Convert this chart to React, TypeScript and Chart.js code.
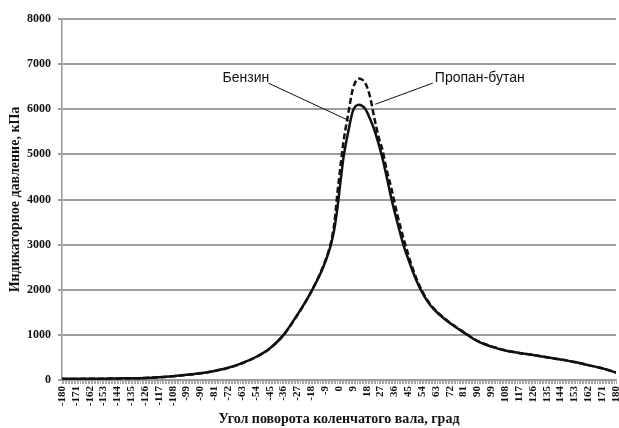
import React, { useEffect, useRef } from "react";
import { Chart, registerables } from "chart.js";

Chart.register(...registerables);

// Crank angle, degrees
const angles = [-180, -171, -162, -153, -144, -135, -126, -117, -108, -99, -90, -81, -72, -63, -54, -45, -36, -27, -22, -18, -14, -10, -7, -5, -3, -1, 1, 3, 6, 9, 13, 17, 20, 23, 26, 28, 31, 34, 38, 42, 45, 48, 51, 54, 57, 60, 64, 68, 75, 83, 90, 99, 108, 117, 126, 135, 144, 153, 162, 171, 180];

// Indicator pressure, kPa — gasoline (Бензин)
const benzin = [25, 25, 28, 30, 35, 38, 45, 62, 85, 115, 150, 200, 270, 375, 510, 700, 1000, 1450, 1720, 1960, 2220, 2520, 2800, 3030, 3350, 3820, 4400, 4950, 5500, 5960, 6100, 6010, 5800, 5540, 5200, 4950, 4500, 4030, 3480, 2980, 2680, 2400, 2150, 1940, 1770, 1630, 1490, 1370, 1190, 1010, 860, 740, 655, 600, 555, 505, 455, 400, 330, 260, 165];

// Indicator pressure, kPa — propane-butane (Пропан-бутан)
const propane = [22, 24, 26, 28, 33, 36, 44, 60, 83, 112, 148, 198, 268, 372, 505, 695, 995, 1440, 1715, 1960, 2230, 2540, 2830, 3080, 3480, 4150, 4750, 5300, 5900, 6450, 6680, 6580, 6300, 5800, 5350, 5130, 4650, 4250, 3650, 3130, 2780, 2460, 2190, 1970, 1790, 1650, 1500, 1380, 1200, 1015, 865, 745, 660, 600, 555, 505, 455, 400, 330, 260, 165];

const yMin = 0;
const yMax = 8000;
const yStep = 1000;
const xMin = -180;
const xMax = 180;
const xLabelStep = 9;

const xTitle = "Угол поворота коленчатого вала, град";
const yTitle = "Индикаторное давление, кПа";

// Callout labels (text anchor and leader line in data units)
const callouts = [
  { text: "Бензин", tx: -60.5, ty: 6690, x1: -46, y1: 6580, x2: 7, y2: 5740 },
  { text: "Пропан-бутан", tx: 91.5, ty: 6690, x1: 61, y1: 6580, x2: 23.5, y2: 6110 },
];

const serifBold = { family: "'Liberation Serif', 'Times New Roman', serif", size: 12, weight: "bold" as const };

export default function App() {
  const ref = useRef<HTMLCanvasElement | null>(null);

  useEffect(() => {
    if (!ref.current) return;
    const calloutPlugin = {
      id: "callouts",
      afterDatasetsDraw(chart: any) {
        const { ctx } = chart;
        const xs = chart.scales.x;
        const ys = chart.scales.y;
        ctx.save();
        ctx.font = "14px 'Liberation Sans', Arial, sans-serif";
        ctx.fillStyle = "#111";
        ctx.textAlign = "center";
        ctx.textBaseline = "middle";
        ctx.strokeStyle = "#111";
        ctx.lineWidth = 1;
        for (const c of callouts) {
          ctx.fillText(c.text, xs.getPixelForValue(c.tx), ys.getPixelForValue(c.ty));
          ctx.beginPath();
          ctx.moveTo(xs.getPixelForValue(c.x1), ys.getPixelForValue(c.y1));
          ctx.lineTo(xs.getPixelForValue(c.x2), ys.getPixelForValue(c.y2));
          ctx.stroke();
        }
        ctx.restore();
      },
    };

    const chart = new Chart(ref.current, {
      type: "line",
      data: {
        datasets: [
          {
            label: "Пропан-бутан",
            data: angles.map((a, i) => ({ x: a, y: propane[i] })),
            borderColor: "#111",
            borderWidth: 2.5,
            borderDash: [6, 3],
            pointRadius: 0,
            cubicInterpolationMode: "monotone",
            fill: false,
          },
          {
            label: "Бензин",
            data: angles.map((a, i) => ({ x: a, y: benzin[i] })),
            borderColor: "#111",
            borderWidth: 2.5,
            pointRadius: 0,
            cubicInterpolationMode: "monotone",
            fill: false,
          },
        ],
      },
      options: {
        animation: false,
        responsive: false,
        maintainAspectRatio: false,
        layout: { padding: { top: 19, right: 3, left: 0, bottom: 0 } },
        plugins: { legend: { display: false }, tooltip: { enabled: false } },
        scales: {
          x: {
            type: "linear",
            min: xMin,
            max: xMax,
            afterBuildTicks: (axis: any) => {
              const t = [];
              for (let v = xMin; v <= xMax; v += 1) t.push({ value: v });
              axis.ticks = t;
            },
            afterFit: (scale: any) => {
              scale.height = 48;
              scale.paddingLeft = 0;
              scale.paddingRight = 0;
            },
            grid: { drawOnChartArea: false, color: "#a8a8a8", lineWidth: 1, tickLength: 4 },
            border: { display: true, color: "#999", width: 1.5 },
            ticks: {
              autoSkip: false,
              minRotation: 90,
              maxRotation: 90,
              padding: 2,
              color: "#111",
              font: { ...serifBold, size: 11 },
              callback: (v: any) => (Number(v) % xLabelStep === 0 ? String(v) : ""),
            },
            title: { display: true, text: xTitle, color: "#111", font: { ...serifBold, size: 14 }, padding: { top: 0, bottom: 0 } },
          },
          y: {
            min: yMin,
            max: yMax,
            afterFit: (scale: any) => {
              scale.width = 62;
            },
            grid: { color: "#9c9c9c", lineWidth: 2, tickLength: 4 },
            border: { display: true, color: "#999", width: 1.5 },
            ticks: { stepSize: yStep, padding: 7, color: "#111", font: serifBold, callback: (v: any) => String(v) },
            title: { display: true, text: yTitle, color: "#111", font: { ...serifBold, size: 14 }, padding: { top: 7, bottom: 0 } },
          },
        },
      },
      plugins: [calloutPlugin],
    } as any);
    return () => chart.destroy();
  }, []);

  return (
    <div style={{ position: "absolute", left: 0, top: 0, width: 619, height: 428, background: "#fff" }}>
      <canvas ref={ref} width={619} height={428} style={{ display: "block" }} />
    </div>
  );
}
